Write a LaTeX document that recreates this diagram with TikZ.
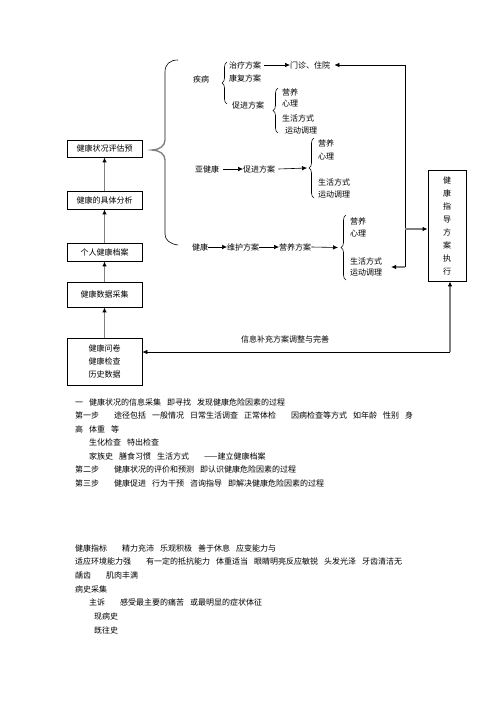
\documentclass[tikz,border=0pt]{standalone}
\usepackage{fontspec}
\setmainfont{Noto Sans CJK SC}
\usetikzlibrary{arrows.meta,decorations.pathreplacing,calc}
\newcommand\spA{\hspace{6pt}}
\newcommand\spB{\hspace{15pt}}
\definecolor{lngray}{HTML}{808080}
\tikzset{
  box/.style={draw=black,line width=0.8pt,minimum width=75pt,inner sep=1pt,font=\fontsize{8pt}{13pt}\selectfont,align=center},
  lbl/.style={inner sep=0pt,font=\fontsize{8pt}{10pt}\selectfont,anchor=west},
  body/.style={inner sep=0pt,font=\fontsize{8pt}{10pt}\selectfont,anchor=west},
  garrow/.style={draw=lngray,line width=1.6pt,-{Latex[length=5pt,width=4.5pt,color=black]}},
  barrow/.style={draw=black,line width=0.6pt,-{Latex[length=5pt,width=4.5pt]}},
  bline/.style={draw=black,line width=0.6pt},
  brc/.style={draw=black,line width=0.6pt,decorate,decoration={brace,amplitude=5pt}}
}
\begin{document}
\begin{tikzpicture}[x=1pt,y=-1pt]
\useasboundingbox (0,0) rectangle (496,702);
% left column boxes
\node[box,minimum height=17pt] (b1) at (104.5,148.5) {健康状况评估预};
\node[box,minimum height=18pt] (b2) at (104.5,200) {健康的具体分析};
\node[box,minimum height=18pt] (b3) at (104.5,252) {个人健康档案};
\node[box,minimum height=25pt] (b4) at (104.5,294.5) {健康数据采集};
\node[box,minimum height=47pt] (b5) at (104.5,361.5) {健康问卷\\健康检查\\历史数据};
\draw[garrow] (b5.north) -- (b4.south);
\draw[garrow] (b4.north) -- (b3.south);
\draw[garrow] (b3.north) -- (b2.south);
\draw[garrow] (b2.north) -- (b1.south);
% big brace
\draw[lngray,line width=1.4pt] (165,72) -- (165,140) .. controls (165,146) and (159,150) .. (152,150) .. controls (159,150) and (165,154) .. (165,160) -- (165,234);
\draw[bline] (165,72) .. controls (165,64) and (170,60) .. (178,60);
\draw[bline] (165,234) .. controls (165,240) and (170,244) .. (178,245);
% disease branch
\node[lbl] (jb) at (193,79) {疾病};
\draw[brc] (227,104) -- (227,62);
\node[lbl] (zl) at (229,65) {治疗方案};
\node[lbl] (kf) at (229,78) {康复方案};
\node[lbl] (cj1) at (232,105) {促进方案};
\node[lbl] (mz) at (290,65) {门诊、住院};
\draw[barrow] ($(zl.east)+(3,0)$) -- (mz.west);
\draw[brc] (278,133) -- (278,88);
\node[lbl] (a1) at (282,92) {营养};
\node[lbl] (a2) at (282,104) {心理};
\node[lbl] (a3) at (282,118) {生活方式};
\node[lbl] (a4) at (285,131) {运动调理};
% sub-health branch
\node[lbl] (yjk) at (195,169) {亚健康};
\node[lbl] (cj2) at (243,169) {促进方案};
\draw[barrow] ($(yjk.east)+(4,0)$) -- (cj2.west);
\draw[brc] (314,198) -- (314,138);
\coordinate (tipc) at (307,168);
\draw[barrow] ($(cj2.east)+(3,0)$) -- (tipc);
\node[lbl] (c1) at (318,143) {营养};
\node[lbl] (c2) at (318,157) {心理};
\node[lbl] (c3) at (318,182) {生活方式};
\node[lbl] (c4) at (318,195) {运动调理};
% health branch
\node[lbl] (jk) at (192,247) {健康};
\node[lbl] (wh) at (227,247) {维护方案};
\node[lbl] (yy) at (279,247) {营养方案};
\draw[barrow] (jk.east) -- (wh.west);
\draw[barrow] (wh.east) -- (yy.west);
\draw[brc] (346,280) -- (346,215);
\coordinate (tipd) at (338,247.5);
\draw[barrow] (yy.east) -- (tipd);
\node[lbl] (d1) at (350,221) {营养};
\node[lbl] (d2) at (350,234) {心理};
\node[lbl] (d3) at (350,261) {生活方式};
\node[lbl] (d4) at (350,273) {运动调理};
% right box
\node[box,minimum width=38pt,minimum height=111pt,font=\fontsize{8pt}{13pt}\selectfont] (rb) at (447,225.5) {健\\康\\指\\导\\方\\案\\执\\行};
\coordinate (vt) at (405,65);
\coordinate (vb) at (405,267);
\coordinate (vm) at (405,229);
\coordinate (vl) at (391,267);
\draw[barrow] (vt) -- ($(mz.east)+(4,0)$);
\draw[bline] (vt) -- (vb);
\draw[garrow] (vb) -- (vl);
\draw[garrow] (vm) -- (vm -| rb.west);
% bottom feedback
\coordinate (fc) at (450,352);
\draw[garrow] (fc) -- (fc |- rb.south);
\draw[barrow] (fc) -- (fc -| b5.east);
\node[inner sep=0pt,font=\fontsize{8pt}{10pt}\selectfont] (fb) at (285,339) {信息补充方案调整与完善};
% body text block 1
\node[body] (t1) at (75,402) {一\spA 健康状况的信息采集\spA 即寻找\spA 发现健康危险因素的过程};
\node[body] (t2) at (75,415.5) {第一步\spB 途径包括\spA 一般情况\spA 日常生活调查\spA 正常体检\spB 因病检查等方式\spA 如年龄\spA 性别\spA 身};
\node[body] (t3) at (75,429) {高\spA 体重\spA 等};
\node[body] (t4) at (89,442.5) {生化检查\spA 特出检查};
\node[body] (t5) at (89,456) {家族史\spA 膳食习惯\spA 生活方式\spB ——建立健康档案};
\node[body] (t6) at (75,469.5) {第二步\spB 健康状况的评价和预测\spA 即认识健康危险因素的过程};
\node[body] (t7) at (75,483) {第三步\spB 健康促进\spA 行为干预\spA 咨询指导\spA 即解决健康危险因素的过程};
% body text block 2
\node[body] (s1) at (75,548) {健康指标\spB 精力充沛\spA 乐观积极\spA 善于休息\spA 应变能力与};
\node[body] (s2) at (75,561.7) {适应环境能力强\spB 有一定的抵抗能力\spA 体重适当\spA 眼睛明亮反应敏锐\spA 头发光泽\spA 牙齿清洁无};
\node[body] (s3) at (75,575.3) {龋齿\spB 肌肉丰满};
\node[body] (s4) at (75,589) {病史采集};
\node[body] (s5) at (89,602.7) {主诉\spB 感受最主要的痛苦\spA 或最明显的症状体征};
\node[body] (s6) at (94,616.3) {现病史};
\node[body] (s7) at (94,630) {既往史};
\end{tikzpicture}
\end{document}
